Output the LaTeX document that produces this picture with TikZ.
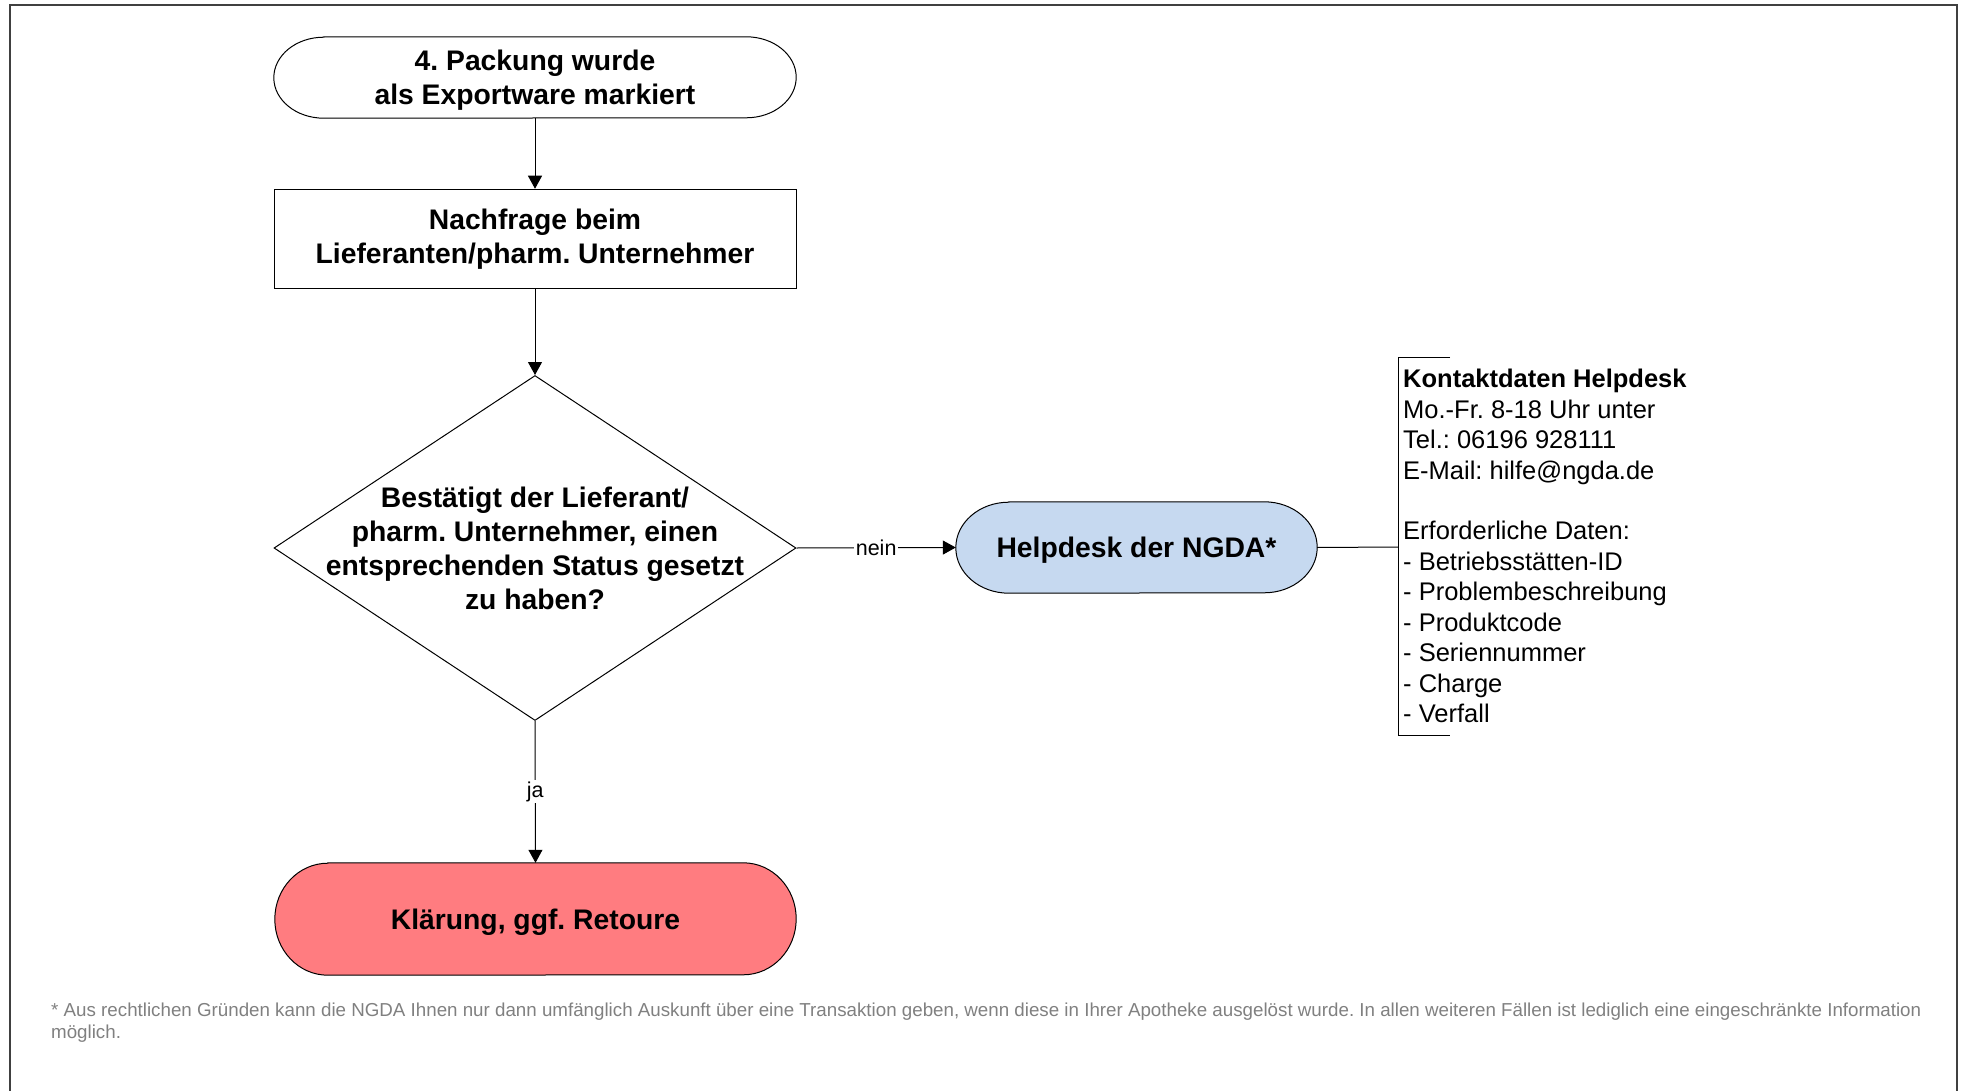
\documentclass[tikz,border=0pt]{standalone}
\usepackage{fontspec}
\setmainfont{Liberation Sans}
\usetikzlibrary{shapes.geometric,arrows.meta}
\pgfdeclarelayer{bg}
\pgfsetlayers{bg,main}
\definecolor{helpblue}{HTML}{C6D9F0}
\definecolor{klarred}{HTML}{FF7C80}
\definecolor{notegray}{HTML}{808080}
\definecolor{framegray}{HTML}{404040}
\frenchspacing
\tikzset{
  boldtxt/.style={font=\fontsize{28.3}{34}\selectfont\bfseries, align=center, inner sep=0pt},
  conn/.style={line width=1pt, -{Triangle[length=13pt,width=14pt]}},
  shapeline/.style={line width=1pt, draw=black},
  lbl/.style={font=\fontsize{21.5}{26}\selectfont, fill=white, inner sep=1.5pt},
}
\newcommand{\termshape}[4]{%
  \path[shapeline, fill=#4] ([xshift=#2]#1.north west) -- ([xshift=-#2]#1.north east)
    arc[start angle=90, end angle=-90, x radius=#2, y radius=#3]
    -- ([xshift=#2]#1.south west)
    arc[start angle=270, end angle=90, x radius=#2, y radius=#3] -- cycle;}
\begin{document}
\begin{tikzpicture}[x=1pt,y=-1pt]
\useasboundingbox (0,0) rectangle (1964,1091);
\draw[framegray, line width=2pt] (10,1091) -- (10,5) -- (1957,5) -- (1957,1091);

\node[boldtxt, text depth=0pt, minimum width=522pt, minimum height=81pt] (start) at (535,77.5) {4. Packung wurde\\als Exportware markiert};
\node[boldtxt, draw, line width=1pt, minimum width=522pt, minimum height=99.5pt] (ask) at (535,239) {Nachfrage beim\\Lieferanten/pharm. Unternehmer};
\node[draw, diamond, line width=1pt, minimum width=522pt, minimum height=345pt, inner sep=0pt] (dec) at (535,548) {};
\node[boldtxt] (dectxt) at (dec.center) {Bestätigt der Lieferant/\\pharm. Unternehmer, einen\\entsprechenden Status gesetzt\\zu haben?};
\node[boldtxt, text depth=0pt, minimum width=361pt, minimum height=91pt] (help) at (1136.5,547.5) {Helpdesk der NGDA*};
\node[boldtxt, text depth=0pt, minimum width=521pt, minimum height=112pt] (klar) at (535.5,919) {Klärung, ggf. Retoure};

\begin{pgfonlayer}{bg}
  \termshape{start}{50pt}{40.5pt}{white}
  \termshape{help}{53pt}{45.5pt}{helpblue}
  \termshape{klar}{53pt}{56pt}{klarred}
\end{pgfonlayer}

\draw[conn] (start.south) -- (ask.north);
\draw[conn] (ask.south) -- (dec.north);
\draw[conn] (dec.east) -- node[lbl] (nein) {nein} (help.west);
\draw[conn] (dec.south) -- node[lbl] (ja) {ja} (klar.north);

\coordinate (brk) at (1398,547);
\draw[line width=1pt] (help.east) -- (brk);
\draw[line width=1pt] (1450,357) -- (1398,357) -- (1398,735.5) -- (1450,735.5);
\node[anchor=north west, align=left, inner sep=0pt, font=\fontsize{25.5}{30.45}\selectfont] (info) at (1403,369)
  {\textbf{Kontaktdaten Helpdesk}\\Mo.-Fr. 8-18 Uhr unter\\Tel.: 06196 928111\\E-Mail: hilfe@ngda.de\\[30.45pt]Erforderliche Daten:\\- Betriebsstätten-ID\\- Problembeschreibung\\- Produktcode\\- Seriennummer\\- Charge\\- Verfall};

\node[anchor=north west, align=left, inner sep=0pt, text=notegray, font=\fontsize{18.75}{22}\selectfont] (note) at (51,1003)
  {* Aus rechtlichen Gründen kann die NGDA Ihnen nur dann umfänglich Auskunft über eine Transaktion geben, wenn diese in Ihrer Apotheke ausgelöst wurde. In allen weiteren Fällen ist lediglich eine eingeschränkte Information\\möglich.};
\end{tikzpicture}
\end{document}
